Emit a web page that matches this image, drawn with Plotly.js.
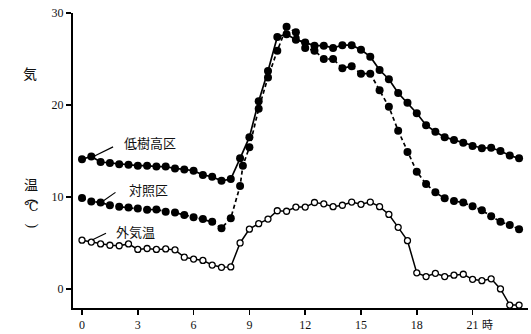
<!DOCTYPE html>
<html>
<head>
<meta charset="utf-8">
<script src="https://cdn.plot.ly/plotly-3.0.1.min.js"></script>
<style>html,body{margin:0;padding:0;background:#fff;}#chart{width:531px;height:334px;}</style>
</head>
<body>
<div id="chart"></div>
<script>
// hours of the day (half-hourly readings)
const hours = [0,0.5,1,1.5,2,2.5,3,3.5,4,4.5,5,5.5,6,6.5,7,7.5,8,8.5,9,9.5,10,10.5,11,11.5,12,12.5,13,13.5,14,14.5,15,15.5,16,16.5,17,17.5,18,18.5,19,19.5,20,20.5,21,21.5,22,22.5,23,23.5];
const hoursCtrl = [0,0.5,1,1.5,2,2.5,3,3.5,4,4.5,5,5.5,6,6.5,7,7.5,8,8.5,8.65,9,9.5,10,10.5,11,11.5,12,12.5,13,13.5,14,14.5,15,15.5,16,16.5,17,17.5,18,18.5,19,19.5,20,20.5,21,21.5,22,22.5,23,23.5];
// 低樹高区 (solid, filled)
const lowTree = [14.1,14.4,13.8,13.7,13.55,13.5,13.4,13.4,13.3,13.3,13.1,13.0,12.85,12.4,12.2,11.75,11.95,14.2,16.5,20.4,23.7,27.4,27.7,27.1,26.8,26.45,26.45,26.2,26.5,26.5,26.0,25.25,23.8,22.8,21.3,20.25,19.1,17.8,17.1,16.5,16.2,15.9,15.55,15.3,15.35,15.0,14.5,14.2];
// 対照区 (dashed, filled)
const control = [9.9,9.5,9.4,9.1,8.95,8.85,8.75,8.6,8.65,8.4,8.3,8.05,7.8,7.6,7.3,6.6,7.7,11.2,13.4,15.4,19.6,23.0,25.9,28.5,27.9,26.2,25.9,25.0,25.0,24.0,24.2,23.4,23.4,21.6,19.8,17.2,14.9,12.75,11.4,10.5,9.85,9.55,9.4,9.0,8.55,7.9,7.3,6.95,6.5];
// 外気温 (solid, open)
const outside = [5.3,5.1,4.9,4.75,4.7,4.9,4.3,4.4,4.3,4.35,4.25,3.45,3.25,3.1,2.6,2.35,2.4,5.0,6.5,7.1,7.6,8.5,8.45,8.9,8.9,9.4,9.25,8.95,9.1,9.45,9.2,9.45,8.95,8.1,6.7,5.25,1.75,1.35,1.7,1.35,1.5,1.6,1.05,0.9,1.1,0.0,-1.75,-1.75];
const xTicks = [0,3,6,9,12,15,18,21];
const xTickText = ['0','3','6','9','12','15','18','21'];
const yTicks = [0,10,20,30];
const seriesNames = ['低樹高区','対照区','外気温'];

const jp = '"Noto Sans CJK JP", "Noto Sans", sans-serif';
const serif = '"Liberation Serif", "DejaVu Serif", serif';

const traces = [
  {x: hours, y: lowTree, name: seriesNames[0], mode: 'lines+markers', cliponaxis: false,
   line: {color: '#000', width: 1.7}, marker: {color: '#000', size: 8}},
  {x: hoursCtrl, y: control, name: seriesNames[1], mode: 'lines+markers', cliponaxis: false,
   line: {color: '#000', width: 1.7, dash: '4px,3px'}, marker: {color: '#000', size: 8}},
  {x: hours, y: outside, name: seriesNames[2], mode: 'lines+markers', cliponaxis: false,
   line: {color: '#000', width: 1.5}, marker: {color: '#fff', size: 6, line: {color: '#000', width: 1.3}}}
];

// paper y from pixel y (plot area spans pixels 13..308)
function py(p){ return (308 - p) / 295; }
const labelFont = {family: jp, size: 13, color: '#111'};
const annotations = [
  {x: 3.66, y: 15.87, text: seriesNames[0], showarrow: false, font: labelFont},
  {x: 3.55, y: 10.76, text: seriesNames[1], showarrow: false, font: labelFont},
  {x: 2.9, y: 6.3, text: seriesNames[2], showarrow: false, font: labelFont},
  {x: 21.45, xanchor: 'left', y: -2.07, yanchor: 'top', yshift: -7, text: '時', showarrow: false, borderpad: 0,
   font: {family: jp, size: 11, color: '#111'}},
  {xref: 'paper', yref: 'paper', x: -0.112, y: py(62), text: '気', showarrow: false, borderpad: 0, font: {family: jp, size: 14, color: '#111'}},
  {xref: 'paper', yref: 'paper', x: -0.110, y: py(184), text: '温', showarrow: false, borderpad: 0, font: {family: jp, size: 14, color: '#111'}},
  {xref: 'paper', yref: 'paper', x: -0.110, y: py(202), text: '(', textangle: 90, showarrow: false, borderpad: 0, font: {family: serif, size: 14, color: '#111'}},
  {xref: 'paper', yref: 'paper', x: -0.110, y: py(215), text: '℃', showarrow: false, borderpad: 0, font: {family: serif, size: 13, color: '#111'}},
  {xref: 'paper', yref: 'paper', x: -0.110, y: py(230), text: ')', textangle: 90, showarrow: false, borderpad: 0, font: {family: serif, size: 14, color: '#111'}}
];
const shapes = [
  {type: 'line', x0: 0.62, y0: 14.4, x1: 1.67, y1: 15.45, line: {color: '#000', width: 1.2}},
  {type: 'line', x0: 1.1, y0: 9.5, x1: 1.8, y1: 10.5, line: {color: '#000', width: 1.2}},
  {type: 'line', x0: 0.54, y0: 5.33, x1: 1.29, y1: 6.05, line: {color: '#000', width: 1.2}}
];

const layout = {
  width: 531, height: 334,
  margin: {l: 73, r: 3, t: 13, b: 26},
  paper_bgcolor: '#fff', plot_bgcolor: '#fff',
  showlegend: false,
  xaxis: {range: [-0.484, 23.98], tickvals: xTicks, ticktext: xTickText, ticks: 'outside', ticklen: 5, tickwidth: 1.5,
          tickcolor: '#000', showline: true, linewidth: 2, linecolor: '#000', showgrid: false, zeroline: false,
          tickfont: {family: serif, size: 12, color: '#111'}},
  yaxis: {range: [-2.07, 30], tickvals: yTicks, ticks: 'outside', ticklen: 5, tickwidth: 1.5,
          tickcolor: '#000', showline: true, linewidth: 2, linecolor: '#000', showgrid: false, zeroline: false,
          tickfont: {family: serif, size: 12, color: '#111'}},
  annotations: annotations,
  shapes: shapes
};
Plotly.newPlot('chart', traces, layout, {displayModeBar: false, staticPlot: true});
</script>
</body>
</html>
